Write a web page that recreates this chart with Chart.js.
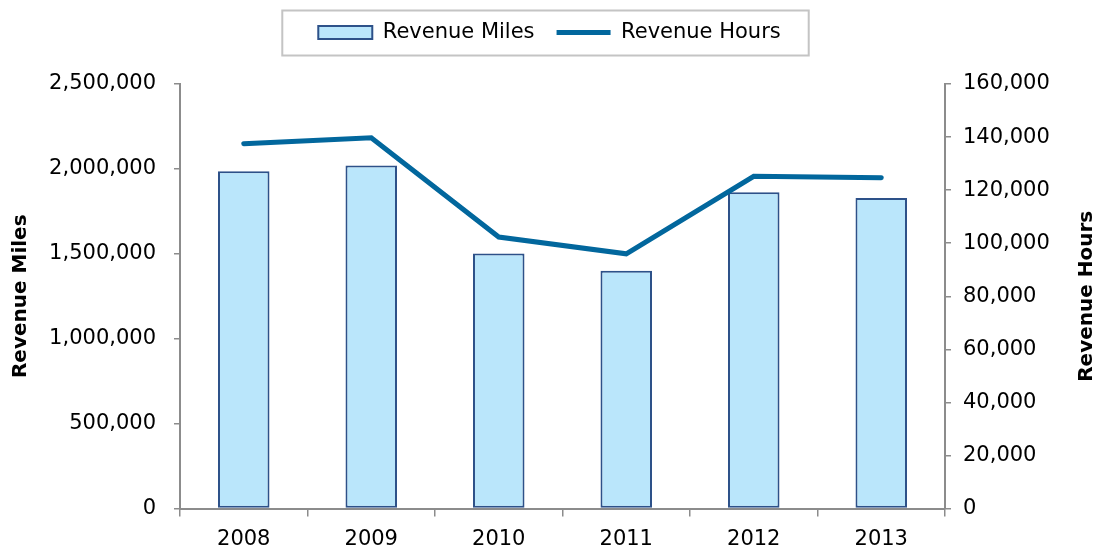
<!DOCTYPE html>
<html>
<head>
<meta charset="utf-8">
<script src="https://cdn.jsdelivr.net/npm/chart.js@4.4.1/dist/chart.umd.min.js"></script>
<style>
  html, body { margin: 0; padding: 0; background: #fff; }
  #wrap { width: 1099px; height: 552px; position: relative; }
</style>
</head>
<body>
<div id="wrap"><canvas id="c" width="1099" height="552"></canvas></div>
<script>
const years = ['2008', '2009', '2010', '2011', '2012', '2013'];
const revenueMiles = [1986000, 2020000, 1502000, 1400000, 1862000, 1829000];
const revenueHours = [137500, 139700, 102300, 96000, 125200, 124700];
const milesTicks = [0, 500000, 1000000, 1500000, 2000000, 2500000];
const hoursTicks = [0, 20000, 40000, 60000, 80000, 100000, 120000, 140000, 160000];

const FONT = 'DejaVu Sans';
const fmt = v => Number(v).toLocaleString('en-US');

const extras = {
  id: 'extras',
  beforeInit(chart) {
    const origFit = chart.legend.fit;
    chart.legend.fit = function () {
      origFit.call(this);
      this.height = 84;
    };
  },
  afterDraw(chart) {
    const ctx = chart.ctx;
    const lg = chart.legend;
    if (lg && lg.legendHitBoxes && lg.legendHitBoxes.length) {
      const hb = lg.legendHitBoxes;
      const l = hb[0].left - 36;
      const last = hb[hb.length - 1];
      const r = last.left + last.width + 28;
      ctx.save();
      ctx.strokeStyle = '#c4c4c4';
      ctx.lineWidth = 2;
      ctx.strokeRect(l, 10.5, r - l, 45);
      ctx.restore();
    }
    const ca = chart.chartArea;
    const cy = (ca.top + ca.bottom) / 2;
    ctx.save();
    ctx.fillStyle = '#000';
    ctx.font = 'bold 20px ' + FONT;
    ctx.textAlign = 'center';
    ctx.textBaseline = 'middle';
    ctx.translate(21, cy);
    ctx.rotate(-Math.PI / 2);
    ctx.fillText('Revenue Miles', 0, 0);
    ctx.restore();
    ctx.save();
    ctx.fillStyle = '#000';
    ctx.font = 'bold 20px ' + FONT;
    ctx.textAlign = 'center';
    ctx.textBaseline = 'middle';
    ctx.translate(1087, cy);
    ctx.rotate(-Math.PI / 2);
    ctx.fillText('Revenue Hours', 0, 0);
    ctx.restore();
  }
};

new Chart(document.getElementById('c'), {
  type: 'bar',
  data: {
    labels: years,
    datasets: [
      {
        type: 'bar',
        label: 'Revenue Miles',
        data: revenueMiles,
        yAxisID: 'y',
        backgroundColor: '#bae6fb',
        borderColor: '#2d5189',
        borderWidth: 2,
        borderSkipped: false,
        barPercentage: 0.404,
        categoryPercentage: 1.0,
        pointStyle: 'rect',
        order: 2
      },
      {
        type: 'line',
        label: 'Revenue Hours',
        data: revenueHours,
        yAxisID: 'y1',
        borderColor: '#02679d',
        backgroundColor: '#02679d',
        borderWidth: 5,
        borderCapStyle: 'round',
        borderJoinStyle: 'miter',
        pointRadius: 0,
        pointHoverRadius: 0,
        pointStyle: 'line',
        tension: 0,
        fill: false,
        order: 1
      }
    ]
  },
  options: {
    responsive: false,
    animation: false,
    devicePixelRatio: 1,
    layout: { padding: { left: 0, right: 0, top: 0, bottom: 0 } },
    plugins: {
      tooltip: { enabled: false },
      legend: {
        position: 'top',
        align: 'center',
        labels: {
          usePointStyle: true,
          pointStyleWidth: 54,
          boxHeight: 13,
          padding: 22,
          color: '#000',
          font: { family: FONT, size: 21 },
          sort: (a, b) => a.datasetIndex - b.datasetIndex
        }
      }
    },
    scales: {
      x: {
        offset: true,
        grid: { display: true, drawOnChartArea: false, offset: true, tickLength: 8, color: '#8c8c8c', lineWidth: 1.5 },
        border: { color: '#8c8c8c', width: 2 },
        ticks: { color: '#000', font: { family: FONT, size: 21 }, padding: 10, maxRotation: 0 },
        afterFit: s => { s.height = 43.5; }
      },
      y: {
        position: 'left',
        min: 0,
        max: 2500000,
        afterBuildTicks: s => { s.ticks = milesTicks.map(v => ({ value: v })); },
        grid: { display: true, drawOnChartArea: false, tickLength: 6, color: '#8c8c8c', lineWidth: 1.5 },
        border: { color: '#8c8c8c', width: 2 },
        ticks: { color: '#000', font: { family: FONT, size: 21 }, padding: 18, callback: v => fmt(v) },
        afterFit: s => { s.width = 180; }
      },
      y1: {
        position: 'right',
        min: 0,
        max: 160000,
        afterBuildTicks: s => { s.ticks = hoursTicks.map(v => ({ value: v })); },
        grid: { display: true, drawOnChartArea: false, tickLength: 6, color: '#8c8c8c', lineWidth: 1.5 },
        border: { color: '#8c8c8c', width: 2 },
        ticks: { color: '#000', font: { family: FONT, size: 21 }, padding: 12, callback: v => fmt(v) },
        afterFit: s => { s.width = 154; }
      }
    }
  },
  plugins: [extras]
});
</script>
</body>
</html>
